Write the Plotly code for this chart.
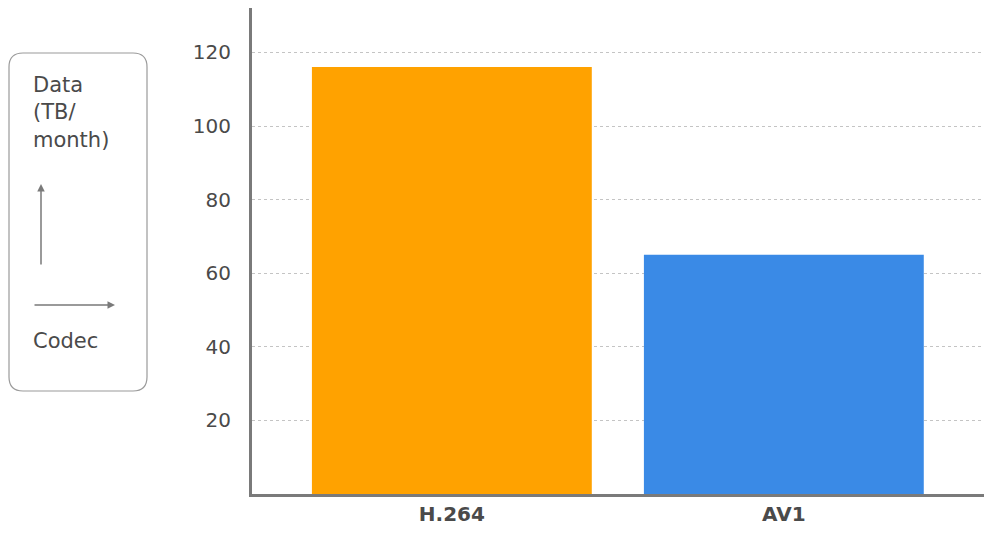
import plotly.graph_objects as go

# data
codecs = ["H.264", "AV1"]
data_tb_month = [116, 65]
bar_colors = ["#FFA200", "#3A8AE6"]
y_ticks = [20, 40, 60, 80, 100, 120]

TEXT = "#4a4a4a"
AXIS = "#7a7a7a"
FONT = "DejaVu Sans"

# the page puts the figure 8px in from the top-left corner,
# so sizes below are in figure px; helpers take screen px
OFF = 8
L, W, H = 252 - OFF, 740, 494 - OFF


def px_x(x):
    return (x - OFF - L) / W


def px_y(y):
    return (H - (y - OFF)) / H


fig = go.Figure(
    go.Bar(
        x=[0, 1],
        y=data_tb_month,
        width=0.843,
        marker=dict(color=bar_colors, line=dict(width=0)),
        hoverinfo="skip",
    )
)

# rounded legend box
x0, x1, y0, y1 = px_x(9), px_x(147), px_y(391), px_y(53)
rx, ry = 14 / W, 14 / H
path = (
    f"M {x0 + rx},{y0} L {x1 - rx},{y0} Q {x1},{y0} {x1},{y0 + ry} "
    f"L {x1},{y1 - ry} Q {x1},{y1} {x1 - rx},{y1} "
    f"L {x0 + rx},{y1} Q {x0},{y1} {x0},{y1 - ry} "
    f"L {x0},{y0 + ry} Q {x0},{y0} {x0 + rx},{y0} Z"
)
fig.add_shape(type="path", path=path, xref="paper", yref="paper",
              line=dict(color="#9a9a9a", width=1.2), fillcolor="rgba(0,0,0,0)")

fig.add_annotation(text="Data<br>(TB/<br>month)", xref="paper", yref="paper",
                   x=px_x(31), y=px_y(71), xanchor="left", yanchor="top",
                   align="left", showarrow=False,
                   font=dict(family=FONT, size=21, color=TEXT))
fig.add_annotation(text="Codec", xref="paper", yref="paper",
                   x=px_x(31), y=px_y(341), xanchor="left", yanchor="middle",
                   showarrow=False, font=dict(family=FONT, size=21, color=TEXT))

# arrows
fig.add_annotation(text="", xref="paper", yref="paper", x=px_x(41), y=px_y(184),
                   ax=0, ay=82, showarrow=True, arrowhead=2, arrowsize=1,
                   arrowwidth=1.5, arrowcolor=AXIS)
fig.add_annotation(text="", xref="paper", yref="paper", x=px_x(115), y=px_y(305),
                   ax=-82, ay=0, showarrow=True, arrowhead=2, arrowsize=1,
                   arrowwidth=1.5, arrowcolor=AXIS)

fig.update_layout(
    width=992 - OFF,
    height=558 - OFF,
    margin=dict(l=L, r=0, t=0, b=558 - 494),
    paper_bgcolor="white",
    plot_bgcolor="white",
    showlegend=False,
    xaxis=dict(
        range=[-0.602, 1.627],
        tickvals=[0, 1],
        ticktext=codecs,
        tickfont=dict(family=FONT, size=20, color=TEXT, weight="bold"),
        showgrid=False,
        showline=True,
        linecolor=AXIS,
        linewidth=3,
        ticks="",
        zeroline=False,
    ),
    yaxis=dict(
        range=[0, 486 / 3.68],
        tickvals=y_ticks,
        tickfont=dict(family=FONT, size=20, color=TEXT),
        showgrid=True,
        gridcolor="#c4c4c4",
        griddash="dot",
        gridwidth=1,
        showline=True,
        linecolor=AXIS,
        linewidth=3,
        ticks="",
        ticklabelstandoff=14,
        zeroline=False,
    ),
)

fig.write_html("out.html")
